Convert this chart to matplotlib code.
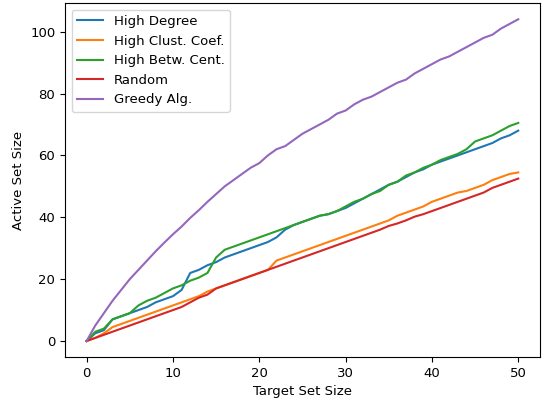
import matplotlib
matplotlib.use("Agg")
import matplotlib.pyplot as plt

x = list(range(51))

high_degree = [0, 2.5, 3.5, 7, 8, 9, 10, 11, 12.5, 13.5,
               14.5, 16.5, 22, 23, 24.5, 25.5, 27, 28, 29, 30,
               31, 32, 33.5, 36, 37.5, 38.5, 39.5, 40.5, 41, 42,
               43, 44.5, 46, 47.5, 49, 50.5, 51.5, 53, 54.5, 55.5,
               57, 58, 59, 60, 61, 62, 63, 64, 65.5, 66.5, 68]

high_clust = [0, 1, 2.5, 4.5, 5.5, 6.5, 7.5, 8.5, 9.5, 10.5,
              11.5, 12.5, 13.5, 14.5, 16, 17, 18, 19, 20, 21,
              22, 23, 26, 27, 28, 29, 30, 31, 32, 33,
              34, 35, 36, 37, 38, 39, 40.5, 41.5, 42.5, 43.5,
              45, 46, 47, 48, 48.5, 49.5, 50.5, 52, 53, 54, 54.5]

high_betw = [0, 3, 4, 7, 8, 9, 11.5, 13, 14, 15.5,
             17, 18, 19.5, 20.5, 22, 27, 29.5, 30.5, 31.5, 32.5,
             33.5, 34.5, 35.5, 36.5, 37.5, 38.5, 39.5, 40.5, 41, 42,
             43.5, 45, 46, 47.5, 48.5, 50.5, 51.5, 53.5, 54.5, 56,
             57, 58.5, 59.5, 60.5, 62, 64.5, 65.5, 66.5, 68, 69.5, 70.5]

random_sel = [0, 1, 2, 3, 4, 5, 6, 7, 8, 9,
              10, 11, 12.5, 14, 15, 17, 18, 19, 20, 21,
              22, 23, 24, 25, 26, 27, 28, 29, 30, 31,
              32, 33, 34, 35, 36, 37.2, 38, 39, 40.2, 41,
              42, 43, 44, 45, 46, 47, 48, 49.5, 50.5, 51.5, 52.5]

greedy = [0, 5, 9, 13, 16.5, 20, 23, 26, 29, 31.8,
          34.5, 37, 39.8, 42.3, 45, 47.5, 50, 52, 54, 56,
          57.5, 60, 62, 63, 65, 67, 68.5, 70, 71.5, 73.5,
          74.5, 76.5, 78, 79, 80.5, 82, 83.5, 84.5, 86.5, 88,
          89.5, 91, 92, 93.5, 95, 96.5, 98, 99, 101, 102.5, 104]

series = [
    ("High Degree", high_degree, "#1f77b4"),
    ("High Clust. Coef.", high_clust, "#ff7f0e"),
    ("High Betw. Cent.", high_betw, "#2ca02c"),
    ("Random", random_sel, "#d62728"),
    ("Greedy Alg.", greedy, "#9467bd"),
]

plt.rcParams["font.size"] = 9.5

fig = plt.figure(figsize=(5.42, 3.99), dpi=100)
ax = fig.add_axes([0.12, 0.105, 0.876, 0.887])
for label, vals, color in series:
    ax.plot(x, vals, label=label, color=color, linewidth=1.5)

ax.set_xlabel("Target Set Size")
ax.set_ylabel("Active Set Size")
ax.set_xticks([0, 10, 20, 30, 40, 50])
ax.set_yticks([0, 20, 40, 60, 80, 100])
ax.legend(loc="upper left")

fig.savefig("out.png", dpi=100)
